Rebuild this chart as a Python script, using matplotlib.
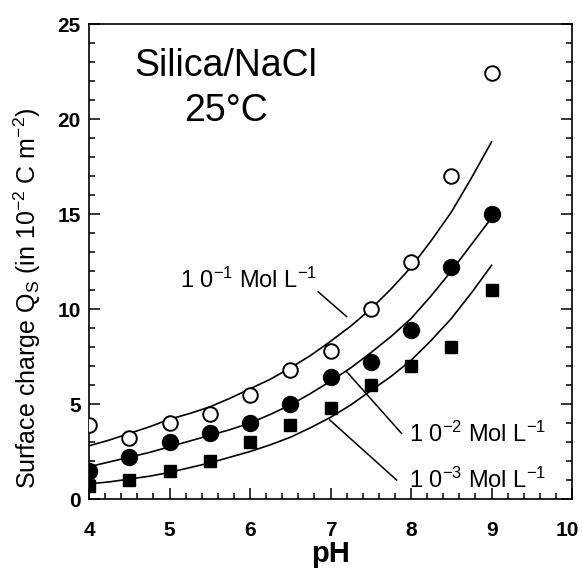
import numpy as np
import matplotlib
matplotlib.use('Agg')
import matplotlib.pyplot as plt
import matplotlib.transforms as mtransforms
from matplotlib.ticker import MultipleLocator

plt.rcParams['font.family'] = ['Liberation Sans', 'DejaVu Sans']
plt.rcParams['mathtext.fontset'] = 'custom'
plt.rcParams['mathtext.rm'] = 'Liberation Sans'
plt.rcParams['mathtext.it'] = 'Liberation Sans'

# measured points
ph = [4.0, 4.5, 5.0, 5.5, 6.0, 6.5, 7.0, 7.5, 8.0, 8.5, 9.0]
q_1e1 = [3.9, 3.2, 4.0, 4.5, 5.5, 6.8, 7.8, 10.0, 12.5, 17.0, 22.4]
q_1e2 = [1.5, 2.2, 3.0, 3.5, 4.0, 5.0, 6.4, 7.2, 8.9, 12.2, 15.0]
q_1e3 = [0.7, 1.0, 1.5, 2.0, 3.0, 3.9, 4.8, 6.0, 7.0, 8.0, 11.0]

# model curves
ph_fit = [4.0, 4.25, 4.5, 4.75, 5.0, 5.25, 5.5, 5.75, 6.0, 6.25, 6.5,
          6.75, 7.0, 7.25, 7.5, 7.75, 8.0, 8.25, 8.5, 8.75, 9.0]
fit_1e1 = [2.8, 3.1, 3.45, 3.8, 4.2, 4.5, 4.85, 5.3, 5.8, 6.3, 6.9,
           7.55, 8.3, 9.1, 10.0, 11.05, 12.2, 13.6, 15.1, 16.9, 18.8]
fit_1e2 = [1.7, 1.95, 2.2, 2.45, 2.75, 3.05, 3.35, 3.65, 4.0, 4.45, 4.95,
           5.55, 6.2, 6.9, 7.7, 8.55, 9.5, 10.7, 12.0, 13.4, 14.8]
fit_1e3 = [0.8, 0.9, 1.05, 1.2, 1.4, 1.65, 1.9, 2.2, 2.5, 2.85, 3.25,
           3.75, 4.3, 4.95, 5.7, 6.45, 7.3, 8.35, 9.5, 10.85, 12.3]

fig = plt.figure(figsize=(5.82, 5.72), dpi=100)
ax = fig.add_axes([0.153, 0.1276, 0.83, 0.8304])

for fit in (fit_1e1, fit_1e2, fit_1e3):
    ax.plot(ph_fit, fit, color='black', lw=1.2, zorder=2)

ax.plot(ph, q_1e1, 'o', ms=10.5, mfc='white', mec='black', mew=1.4, zorder=3)
ax.plot(ph, q_1e2, 'o', ms=11.5, color='black', zorder=3)
ax.plot(ph, q_1e3, 's', ms=8, color='black', zorder=3)

ax.set_xlim(4, 10)
ax.set_ylim(0, 25)
ax.xaxis.set_major_locator(MultipleLocator(1))
ax.xaxis.set_minor_locator(MultipleLocator(0.2))
ax.yaxis.set_major_locator(MultipleLocator(5))
ax.yaxis.set_minor_locator(MultipleLocator(1))
ax.tick_params(which='both', direction='in', top=False, right=True, width=1.1)
ax.tick_params(which='major', length=8, labelsize=15)
ax.tick_params(which='minor', length=4.5)
ax.tick_params(axis='x', which='major', pad=16)
ax.tick_params(axis='y', which='major', pad=6)
for sp in ax.spines.values():
    sp.set_linewidth(1.2)

ax.set_xlabel('pH', fontsize=21, fontweight='bold', labelpad=0)
ax.set_ylabel(r'Surface charge Q$_\mathregular{S}$ (in 10$^{\mathregular{-2}}$ C m$^{\mathregular{-2}}$)',
              fontsize=18)
ax.yaxis.set_label_coords(-0.095, 0.423)

fig.canvas.draw()
for lab in ax.get_xticklabels() + ax.get_yticklabels():
    lab.set_fontweight('bold')
# keep the "10" at the right end inside the figure
for tick in ax.xaxis.get_major_ticks():
    if tick.label1.get_text() == '10':
        tick.label1.set_transform(tick.label1.get_transform() +
                                  mtransforms.ScaledTranslation(-0.05, 0, fig.dpi_scale_trans))

ax.text(5.7, 22.8, 'Silica/NaCl', fontsize=27, ha='center', va='center')
ax.text(5.7, 20.4, '25°C', fontsize=27, ha='center', va='center')

lab_fs = 17
ax.text(5.13, 11.1, r'1 0$^{\mathregular{-1}}$ Mol L$^{\mathregular{-1}}$', fontsize=lab_fs,
        ha='left', va='baseline')
ax.plot([6.845, 7.20], [10.91, 9.6], color='black', lw=1.1)
ax.text(7.97, 3.0, r'1 0$^{\mathregular{-2}}$ Mol L$^{\mathregular{-1}}$', fontsize=lab_fs,
        ha='left', va='baseline')
ax.plot([7.20, 7.88], [6.70, 3.46], color='black', lw=1.1)
ax.text(7.97, 0.58, r'1 0$^{\mathregular{-3}}$ Mol L$^{\mathregular{-1}}$', fontsize=lab_fs,
        ha='left', va='baseline')
ax.plot([6.99, 7.82], [4.16, 1.0], color='black', lw=1.1)

fig.savefig('out.png', dpi=100)
